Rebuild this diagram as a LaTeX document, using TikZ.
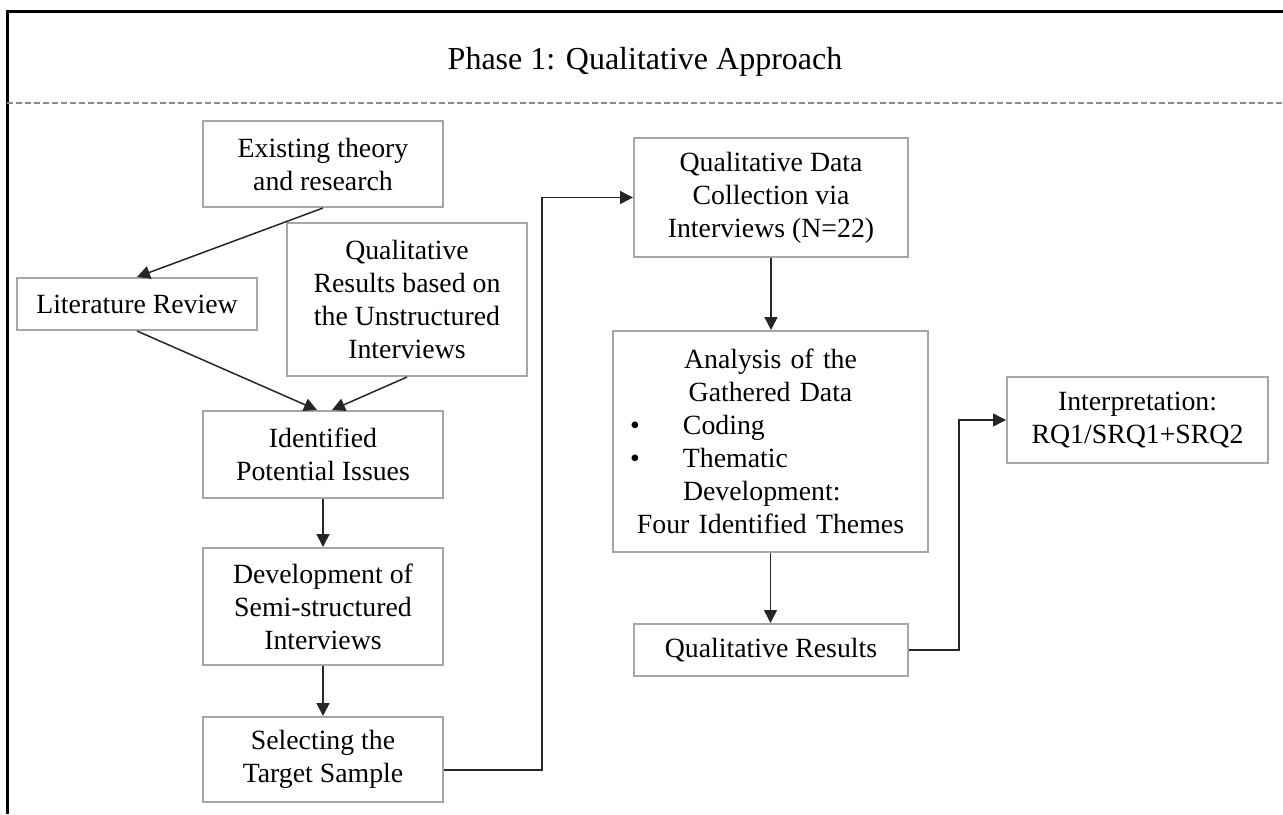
\documentclass[tikz,border=0pt]{standalone}
\usepackage{fontspec}
\setmainfont{Liberation Serif}
\usetikzlibrary{arrows.meta,calc}
\begin{document}
\begin{tikzpicture}[x=0.5pt,y=-0.5pt,
  stage/.style={draw=black!35, line width=1pt, fill=white, inner sep=0pt,
    align=center, font=\fontsize{13.9}{16.5}\selectfont},
  link/.style={draw=black!85, line width=0.75pt,
    -{Triangle[length=6.5pt,width=6.5pt]}},
  frame/.style={draw=black, line width=1.5pt},
  divider/.style={draw=black!45, line width=1pt, dash pattern=on 3pt off 1.5pt}]

\useasboundingbox (0,0) rectangle (1283,814);

% frame and header divider
\draw[frame] (7,814) -- (7,11) -- (1283,11);
\draw[divider] (7,103) -- (1283,103);
\node[anchor=base, inner sep=0pt, font=\fontsize{16}{19}\selectfont] (title) at (645,69)
  {Phase 1: Qualitative Approach};

% left column
\node[stage, minimum width=120pt, minimum height=43pt] (e1) at (323,164)
  {Existing theory\\and research};
\node[stage, minimum width=120pt, minimum height=26pt] (lit) at (137,304)
  {Literature Review};
\node[stage, minimum width=120pt, minimum height=76.5pt] (qr) at (407,299.5)
  {Qualitative\\Results based on\\the Unstructured\\Interviews};
\node[stage, minimum width=120pt, minimum height=43.5pt] (id) at (323,454.5)
  {Identified\\Potential Issues};
\node[stage, minimum width=120pt, minimum height=58.5pt] (dev) at (323,606.5)
  {Development of\\Semi-structured\\Interviews};
\node[stage, minimum width=120pt, minimum height=42.5pt] (sel) at (323,759.5)
  {Selecting the\\Target Sample};

% right column
\node[stage, minimum width=137pt, minimum height=59.5pt] (qd) at (771,197.5)
  {Qualitative Data\\Collection via\\Interviews (N=22)};
\node[stage, minimum width=157.5pt, minimum height=110.5pt, text width=157.5pt] (ana) at (770.5,441.5)
  {Analysis of the\\Gathered Data\\
   \makebox[157.5pt][l]{\hspace*{8.5pt}\makebox[26.5pt][l]{\textbullet}Coding}\\
   \makebox[157.5pt][l]{\hspace*{8.5pt}\makebox[26.5pt][l]{\textbullet}Thematic}\\
   \makebox[157.5pt][l]{\hspace*{35pt}Development:}\\
   Four Identified Themes};
\node[stage, minimum width=137pt, minimum height=26pt] (qres) at (771,650)
  {Qualitative Results};
\node[stage, minimum width=130.5pt, minimum height=43pt] (interp) at (1137.5,420)
  {Interpretation:\\RQ1/SRQ1+SRQ2};

% connectors
\draw[link] (e1.south) -- (lit.north);
\draw[link] (lit.south) -- ($(id.north)+(-6,0)$);
\draw[link] (qr.south) -- ($(id.north)+(9,0)$);
\draw[link] (id.south) -- (dev.north);
\draw[link] (dev.south) -- (sel.north);
\draw[link] ($(sel.east)+(0,10.5)$) -- ++(98,0) |- (qd.west);
\draw[link] (qd.south) -- (qd.south |- ana.north);
\draw[link] (ana.south) -- (ana.south |- qres.north);
\draw[link] (qres.east) -- ++(50,0) |- (interp.west);
\end{tikzpicture}
\end{document}
